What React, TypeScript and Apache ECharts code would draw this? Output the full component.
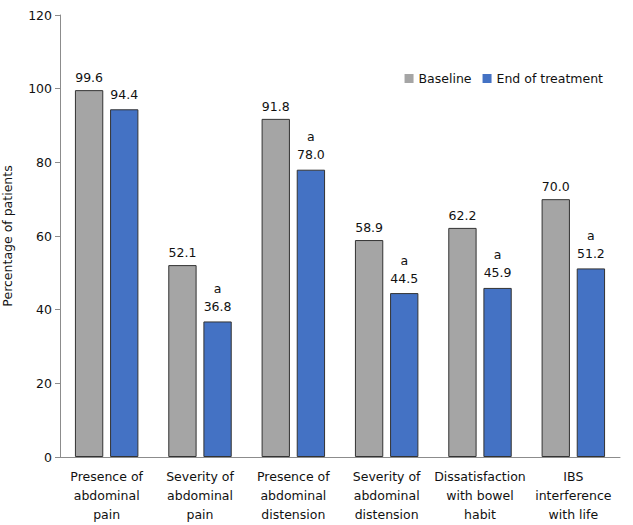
import React, { useEffect, useRef } from "react";
import * as echarts from "echarts";

const categories = [
  "Presence of\nabdominal\npain",
  "Severity of\nabdominal\npain",
  "Presence of\nabdominal\ndistension",
  "Severity of\nabdominal\ndistension",
  "Dissatisfaction\nwith bowel\nhabit",
  "IBS\ninterference\nwith life",
];
const baseline = [99.6, 52.1, 91.8, 58.9, 62.2, 70.0];
const endOfTreatment = [94.4, 36.8, 78.0, 44.5, 45.9, 51.2];
const significant = [false, true, true, true, true, true];
const yTicks = [0, 20, 40, 60, 80, 100, 120];

const FONT = "DejaVu Sans, Verdana, sans-serif";
const FS = 12.5;

export default function App() {
  const ref = useRef<HTMLDivElement>(null);
  useEffect(() => {
    if (!ref.current) return;
    const chart = echarts.init(ref.current, null, { renderer: "svg" });
    chart.setOption({
      animation: false,
      backgroundColor: "#ffffff",
      textStyle: { fontFamily: FONT },
      legend: {
        right: 25,
        top: 67,
        itemWidth: 9,
        itemHeight: 9,
        itemGap: 11,
        icon: "rect",
        itemStyle: { borderWidth: 0 },
        textStyle: { fontSize: FS, color: "#111", fontFamily: FONT },
        data: ["Baseline", "End of treatment"],
      },
      grid: {
        left: 60,
        right: 13,
        top: 15,
        bottom: 68,
        containLabel: false,
        outerBoundsMode: "none",
      },
      xAxis: {
        type: "category",
        data: categories,
        axisLine: { lineStyle: { color: "#8c8c8c" } },
        axisTick: { show: false },
        axisLabel: {
          interval: 0,
          fontSize: FS,
          color: "#111",
          lineHeight: 19,
          margin: 10,
          fontFamily: FONT,
        },
      },
      yAxis: {
        type: "value",
        min: yTicks[0],
        max: yTicks[yTicks.length - 1],
        interval: 20,
        name: "Percentage of patients",
        nameLocation: "middle",
        nameGap: 46,
        nameTextStyle: { fontSize: FS, color: "#111", fontFamily: FONT },
        axisLine: { show: true, lineStyle: { color: "#8c8c8c" } },
        axisTick: { show: true, length: 5, lineStyle: { color: "#8c8c8c" } },
        splitLine: { show: false },
        axisLabel: { fontSize: FS, color: "#111", margin: 8, fontFamily: FONT },
      },
      series: [
        {
          name: "Baseline",
          type: "bar",
          data: baseline,
          barGap: "24%",
          barCategoryGap: "32%",
          itemStyle: { color: "#a5a5a5", borderColor: "#333", borderWidth: 1 },
          label: {
            show: true,
            position: "top",
            distance: 6,
            fontSize: FS,
            color: "#111",
            fontFamily: FONT,
            formatter: (p: any) => p.value.toFixed(1),
          },
        },
        {
          name: "End of treatment",
          type: "bar",
          data: endOfTreatment,
          itemStyle: { color: "#4472c4", borderColor: "#333", borderWidth: 1 },
          label: {
            show: true,
            position: "top",
            distance: 6,
            fontSize: FS,
            lineHeight: 18,
            color: "#111",
            fontFamily: FONT,
            formatter: (p: any) =>
              (significant[p.dataIndex] ? "a\n" : "") + p.value.toFixed(1),
          },
        },
      ],
    });
    return () => chart.dispose();
  }, []);
  return (
    <div
      ref={ref}
      style={{ position: "fixed", left: 0, top: 0, width: 633, height: 525 }}
    />
  );
}
